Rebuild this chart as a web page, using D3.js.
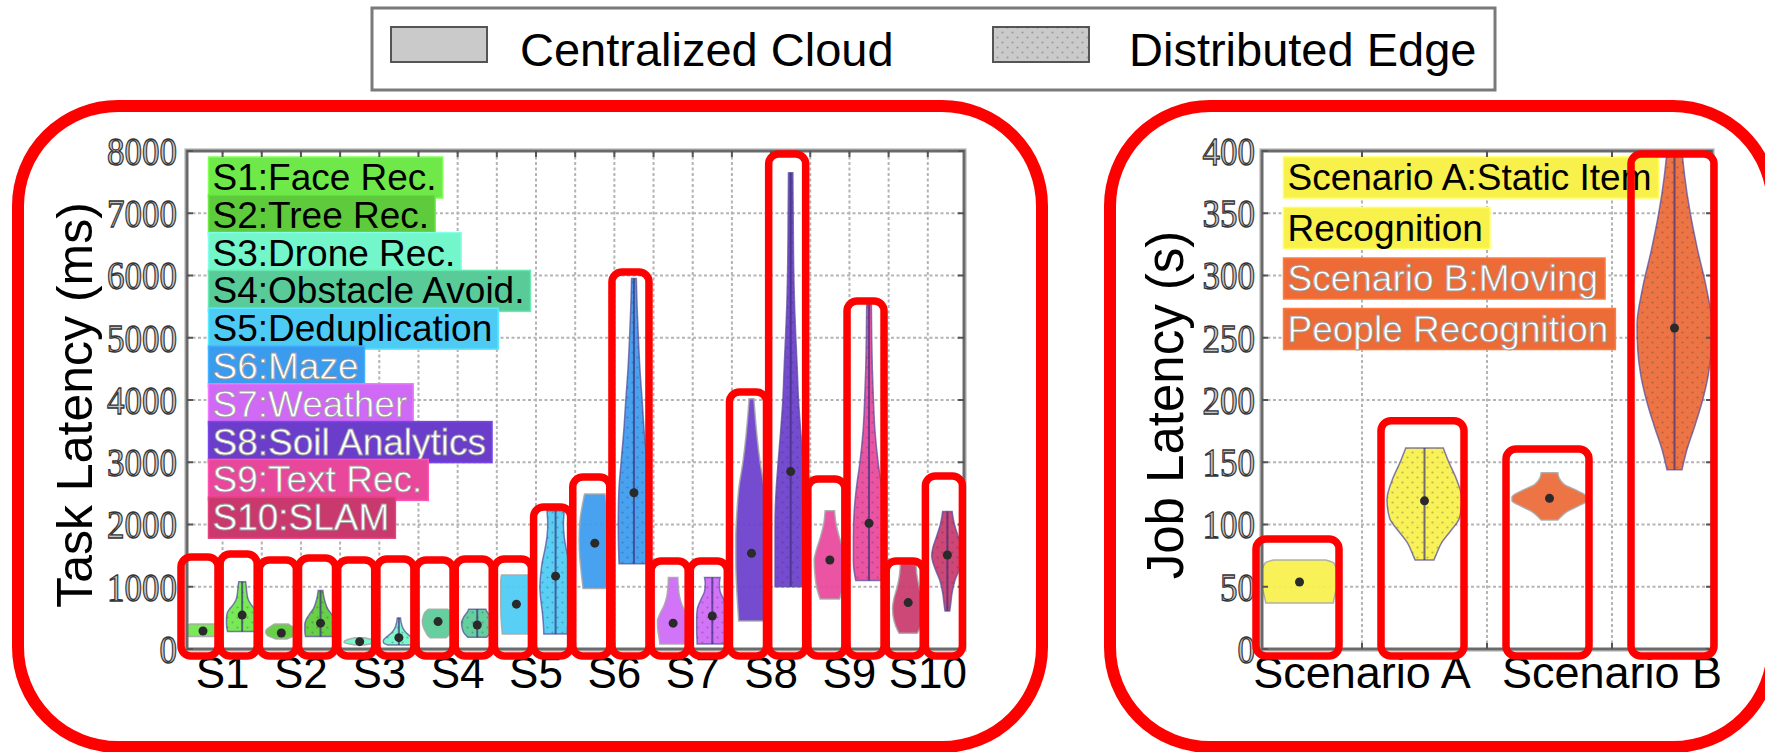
<!DOCTYPE html>
<html><head><meta charset="utf-8">
<script src="https://cdn.jsdelivr.net/npm/d3@7"></script>
<style>html,body{margin:0;padding:0;background:#fff;} svg{display:block}</style>
</head><body>
<svg id="chart" width="1765" height="752"></svg>
<script>
// ---------------- DATA ----------------
const categories = ["S1","S2","S3","S4","S5","S6","S7","S8","S9","S10"];
const taskNames = ["S1:Face Rec.","S2:Tree Rec.","S3:Drone Rec.","S4:Obstacle Avoid.","S5:Deduplication",
                   "S6:Maze","S7:Weather","S8:Soil Analytics","S9:Text Rec.","S10:SLAM"];
const taskColors = ["#6fe84a","#5dcb3b","#72f6ca","#59cb98","#4ecbf4","#3b9bef","#cf69f6","#6a3dcb","#e8479b","#c9396d"];
const taskLabelDark = [true,true,true,true,true,false,false,false,false,false];
const leftYTicks = [0,1000,2000,3000,4000,5000,6000,7000,8000];

// violin profiles: [latency (ms), relative half-width]
const cloudProfiles = [
  [[400,0.85],[380,0.97],[340,1],[260,1],[220,0.97],[200,0.9]],
  [[400,0.45],[360,0.7],[320,0.92],[270,1],[220,0.9],[190,0.65],[160,0.35]],
  [[180,0.3],[160,0.65],[130,0.95],[110,1],[90,0.85],[75,0.55],[64,0.3]],
  [[640,0.6],[600,0.8],[520,0.95],[440,1],[360,0.95],[280,0.8],[200,0.6],[180,0.5]],
  [[1190,0.95],[1100,1],[900,1],[700,1],[500,0.98],[300,0.92],[240,0.9]],
  [[2490,0.65],[2300,0.8],[2050,0.95],[1750,1],[1450,0.95],[1200,0.85],[970,0.75]],
  [[1150,0.3],[1000,0.33],[850,0.4],[700,0.58],[560,0.85],[450,1],[300,0.97],[150,0.88],[80,0.85]],
  [[4020,0.15],[3700,0.25],[3400,0.36],[3000,0.55],[2600,0.8],[2200,0.93],[1800,1],[1400,1],[1000,0.95],[700,0.88],[450,0.82]],
  [[2220,0.3],[2000,0.4],[1800,0.6],[1600,0.85],[1430,1],[1200,0.95],[1000,0.85],[805,0.62]],
  [[1380,0.5],[1200,0.55],[1000,0.7],[800,0.92],[650,1],[450,0.9],[300,0.68],[255,0.58]]
];
const edgeProfiles = [
  [[1080,0.22],[1000,0.26],[900,0.3],[800,0.38],[720,0.55],[650,0.78],[580,0.95],[500,1],[400,1],[300,0.95],[280,0.93]],
  [[940,0.15],[850,0.2],[750,0.3],[650,0.45],[560,0.7],[480,0.9],[400,1],[300,1],[220,0.97],[200,0.95]],
  [[500,0.1],[420,0.15],[340,0.25],[280,0.4],[230,0.6],[180,0.85],[130,1],[90,0.95],[64,0.7]],
  [[640,0.55],[600,0.62],[520,0.85],[420,1],[320,0.95],[240,0.8],[190,0.6]],
  [[2220,0.55],[2000,0.5],[1800,0.55],[1600,0.68],[1400,0.85],[1200,0.95],[1000,1],[800,0.95],[600,0.85],[400,0.78],[240,0.75]],
  [[5950,0.15],[5500,0.2],[5000,0.28],[4500,0.38],[4000,0.52],[3500,0.65],[3000,0.82],[2500,0.97],[2000,1],[1600,0.98],[1370,0.95]],
  [[1150,0.5],[1050,0.45],[920,0.5],[800,0.72],[650,0.95],[500,1],[300,1],[100,0.97],[80,0.97]],
  [[7650,0.14],[7000,0.16],[6000,0.2],[5500,0.25],[5000,0.33],[4500,0.42],[4000,0.5],[3500,0.64],[3000,0.8],[2500,0.94],[2000,1],[1500,1],[1000,1]],
  [[5530,0.15],[5000,0.17],[4500,0.21],[4000,0.28],[3500,0.38],[3000,0.58],[2600,0.8],[2200,0.95],[1800,1],[1400,1],[1100,0.85]],
  [[2210,0.3],[2000,0.45],[1800,0.7],[1600,0.95],[1500,1],[1300,0.8],[1100,0.48],[900,0.3],[700,0.2],[610,0.15]]
];
const cloudMedians = [290,257,118,440,720,1700,415,1537,1430,745];
const edgeMedians  = [545,415,182,385,1170,2510,530,2850,2020,1510];
// top of the red highlight frame around each violin (ms)
const cloudHighlightTop = [1478,1430,1430,1430,1446,2763,1414,4128,2731,1414];
const edgeHighlightTop  = [1526,1462,1446,1446,2281,6056,1414,7952,5590,2779];

const scenarios = ["Scenario A","Scenario B"];
const scenarioNames = ["Scenario A:Static Item","Recognition","Scenario B:Moving","People Recognition"];
const scenarioNameGroup = [0,0,1,1];
const scenarioColors = ["#f8f04b","#ec6b37"];
const scenarioLabelDark = [true,false];
const rightYTicks = [0,50,100,150,200,250,300,350,400];
const scenarioCloudProfiles = [
  [[71.5,0.7],[69,0.92],[62,1],[50,1],[44,0.95],[40,0.92],[37,0.9]],
  [[141.6,0.22],[137,0.26],[132,0.4],[127,0.75],[122,1],[119,1],[115,0.78],[110,0.45],[106,0.3],[103.6,0.22]]
];
const scenarioEdgeProfiles = [
  [[161.5,0.5],[150,0.65],[135,0.87],[120,1],[105,0.93],[95,0.7],[85,0.45],[75,0.3],[71.5,0.25]],
  [[400,0.2],[380,0.27],[350,0.42],[320,0.62],[290,0.85],[260,1],[240,0.98],[220,0.9],[200,0.75],[180,0.55],[160,0.33],[144,0.2]]
];
const scenarioCloudMedians = [53.8,121];
const scenarioEdgeMedians = [119,257.8];
const scenarioCloudHighlightTop = [88.4,160.6];
const scenarioEdgeHighlightTop = [183.4,397.6];

const legendLabels = ["Centralized Cloud","Distributed Edge"];

// ---------------- DRAW ----------------
const svg = d3.select("#chart");
const W = 1765, H = 752;
svg.append("rect").attr("width",W).attr("height",H).attr("fill","#fff");
const defs = svg.append("defs");
const pat = defs.append("pattern").attr("id","dots").attr("patternUnits","userSpaceOnUse")
  .attr("width",10).attr("height",10);
pat.append("circle").attr("cx",2.5).attr("cy",2.5).attr("r",1.1).attr("fill","rgba(50,50,50,0.3)");
pat.append("circle").attr("cx",7.5).attr("cy",7.5).attr("r",1.1).attr("fill","rgba(50,50,50,0.3)");

const SANS = "'Liberation Sans', Arial, Helvetica, sans-serif";
const SERIF = "'Liberation Serif', 'Times New Roman', serif";

// Legend
const lg = svg.append("g");
lg.append("rect").attr("x",372).attr("y",8).attr("width",1123).attr("height",82)
  .attr("fill","#fff").attr("stroke","#7a7a7a").attr("stroke-width",3);
const legX = [391, 993], legTX = [520, 1129];
legendLabels.forEach((t,i)=>{
  lg.append("rect").attr("x",legX[i]).attr("y",27).attr("width",96).attr("height",35)
    .attr("fill","#cacaca").attr("stroke","#555").attr("stroke-width",2);
  if (i===1) lg.append("rect").attr("x",legX[i]).attr("y",27).attr("width",96).attr("height",35)
    .attr("fill","url(#dots)");
  lg.append("text").attr("x",legTX[i]).attr("y",66).attr("font-family",SANS).attr("font-size",47)
    .attr("fill","#000").text(t);
});

function drawPanel(cfg){
  const g = svg.append("g");
  const xs = d3.scaleLinear().domain(cfg.xDomain).range([cfg.x0,cfg.x1]);
  const ys = d3.scaleLinear().domain(cfg.yDomain).range([cfg.y1,cfg.y0]);
  const clipId = "clip"+cfg.id;
  defs.append("clipPath").attr("id",clipId).append("rect")
    .attr("x",cfg.x0).attr("y",cfg.y0).attr("width",cfg.x1-cfg.x0).attr("height",cfg.y1-cfg.y0);

  // grid
  const grid = g.append("g").attr("stroke","#b4b4b4").attr("stroke-width",2).attr("stroke-dasharray","3,2.5");
  cfg.gridX.forEach(v=>grid.append("line").attr("x1",xs(v)).attr("x2",xs(v)).attr("y1",cfg.y0).attr("y2",cfg.y1));
  cfg.yTicks.forEach(v=>grid.append("line").attr("x1",cfg.x0).attr("x2",cfg.x1).attr("y1",ys(v)).attr("y2",ys(v)));

  // label boxes
  const lb = g.append("g");
  cfg.labels.forEach((t,i)=>{
    const by = cfg.labelBase + i*cfg.labelStep;
    const col = cfg.labelColor(i), dark = cfg.labelDark(i);
    const r = lb.append("rect").attr("x",cfg.x0+21.5).attr("y",by-33).attr("height",41)
      .attr("fill",col).attr("stroke",d3.color(col).brighter(0.4)).attr("stroke-width",1.5);
    const tx = lb.append("text").attr("x",cfg.x0+25.5).attr("y",by).attr("font-family",SANS)
      .attr("font-size",37).text(t);
    if (dark) tx.attr("fill","#000");
    else tx.attr("fill","#fff").attr("stroke","#9a9a9a").attr("stroke-width",0.8);
    const w = tx.node().getComputedTextLength();
    r.attr("width", w + 4 + cfg.labelPad);
  });

  // violins
  const vg = g.append("g").attr("clip-path",`url(#${clipId})`);
  const halfW = xs(cfg.width/2) - xs(0);
  function violin(pos, profile, color, edge, med){
    const pts = profile.slice().sort((a,b)=>b[0]-a[0]);
    const cx = xs(pos);
    const area = d3.area().curve(d3.curveMonotoneY)
      .y(d=>ys(d[0])).x0(d=>cx-d[1]*halfW).x1(d=>cx+d[1]*halfW);
    const d = area(pts);
    vg.append("path").attr("d",d).attr("fill",color).attr("fill-opacity",0.93)
      .attr("stroke", edge ? "#5b4f9c" : "#a8a8a8").attr("stroke-opacity", edge?0.75:0.9).attr("stroke-width",1.5);
    if (edge){
      vg.append("path").attr("d",d).attr("fill","url(#dots)");
      vg.append("line").attr("x1",cx).attr("x2",cx).attr("y1",ys(pts[0][0])).attr("y2",ys(pts[pts.length-1][0]))
        .attr("stroke","#3a2f7a").attr("stroke-opacity",0.7).attr("stroke-width",2);
    }
    vg.append("circle").attr("cx",cx).attr("cy",ys(med)).attr("r",4.5).attr("fill","#2a2a2a");
  }
  cfg.groups.forEach((c,i)=>{
    violin(i+1-0.25, cfg.cloud[i], cfg.color(i), false, cfg.cloudMed[i]);
    violin(i+1+0.25, cfg.edge[i], cfg.color(i), true, cfg.edgeMed[i]);
  });

  // frame and ticks
  const ax = g.append("g");
  ax.append("rect").attr("x",cfg.x0-2).attr("y",cfg.y0-2).attr("width",cfg.x1-cfg.x0+4).attr("height",cfg.y1-cfg.y0+4)
    .attr("fill","none").attr("stroke","#c4c4c4").attr("stroke-width",1.5);
  ax.append("rect").attr("x",cfg.x0).attr("y",cfg.y0).attr("width",cfg.x1-cfg.x0).attr("height",cfg.y1-cfg.y0)
    .attr("fill","none").attr("stroke","#6a6a6a").attr("stroke-width",3);
  const tk = ax.append("g").attr("stroke","#555").attr("stroke-width",2);
  cfg.gridX.forEach(v=>{
    tk.append("line").attr("x1",xs(v)).attr("x2",xs(v)).attr("y1",cfg.y0).attr("y2",cfg.y0+6);
    tk.append("line").attr("x1",xs(v)).attr("x2",xs(v)).attr("y1",cfg.y1).attr("y2",cfg.y1-6);
  });
  cfg.yTicks.forEach(v=>{
    tk.append("line").attr("x1",cfg.x0).attr("x2",cfg.x0+6).attr("y1",ys(v)).attr("y2",ys(v));
    tk.append("line").attr("x1",cfg.x1).attr("x2",cfg.x1-6).attr("y1",ys(v)).attr("y2",ys(v));
  });
  // y tick labels
  cfg.yTicks.forEach(v=>{
    ax.append("text").attr("transform",`translate(${cfg.x0-cfg.tickGap},${ys(v)}) scale(1,1.17)`)
      .attr("text-anchor","end").attr("dominant-baseline","central")
      .attr("font-family",SERIF).attr("font-size",35)
      .attr("fill","#c4c4c4").attr("stroke","#333").attr("stroke-width",1.1).text(v);
  });
  // x labels
  cfg.groups.forEach((c,i)=>{
    ax.append("text").attr("x",xs(i+1)).attr("y",688).attr("text-anchor","middle")
      .attr("font-family",SANS).attr("font-size",cfg.xFont).attr("fill","#000").text(c);
  });
  // y title
  ax.append("text").attr("transform",`translate(${cfg.titleX},405) rotate(-90)`)
    .attr("text-anchor","middle").attr("dominant-baseline","central")
    .attr("font-family",SANS).attr("font-size",cfg.titleSize).attr("fill","#000").text(cfg.title);

  // red highlight frames
  const hg = g.append("g").attr("fill","none").attr("stroke","#ff0000").attr("stroke-width",7.5);
  const hb = ys(0) + 7;
  cfg.groups.forEach((c,i)=>{
    [[i+1-0.25, cfg.cloudTop[i]],[i+1+0.25, cfg.edgeTop[i]]].forEach(([p,top])=>{
      const cx = xs(p) + cfg.boxShift;
      const ty = ys(top);
      hg.append("rect").attr("x",cx-cfg.boxHalf).attr("y",ty).attr("width",cfg.boxHalf*2)
        .attr("height",hb-ty).attr("rx",10);
    });
  });
}

drawPanel({
  id:"L", x0:187, x1:964, y0:151, y1:649, xDomain:[0.546,10.462], yDomain:[0,8000],
  gridX: d3.range(1,10.01,0.5), yTicks:leftYTicks, groups:categories, width:0.4,
  cloud:cloudProfiles, edge:edgeProfiles, cloudMed:cloudMedians, edgeMed:edgeMedians,
  cloudTop:cloudHighlightTop, edgeTop:edgeHighlightTop,
  color:i=>taskColors[i], labels:taskNames, labelColor:i=>taskColors[i], labelDark:i=>taskLabelDark[i],
  labelBase:190, labelStep:37.8, labelPad:6,
  tickGap:10, xFont:44, title:"Task Latency (ms)", titleX:75, titleSize:50,
  boxShift:-3.5, boxHalf:18.5
});
drawPanel({
  id:"R", x0:1262, x1:1712, y0:151, y1:649, xDomain:[0.6,2.4], yDomain:[0,400],
  gridX:[1,1.5,2], yTicks:rightYTicks, groups:scenarios, width:0.3,
  cloud:scenarioCloudProfiles, edge:scenarioEdgeProfiles, cloudMed:scenarioCloudMedians, edgeMed:scenarioEdgeMedians,
  cloudTop:scenarioCloudHighlightTop, edgeTop:scenarioEdgeHighlightTop,
  color:i=>scenarioColors[i], labels:scenarioNames,
  labelColor:i=>scenarioColors[scenarioNameGroup[i]], labelDark:i=>scenarioLabelDark[scenarioNameGroup[i]],
  labelBase:190, labelStep:50.5, labelPad:7,
  tickGap:7, xFont:45, title:"Job Latency (s)", titleX:1165, titleSize:51,
  boxShift:-2, boxHalf:41.5
});

// panel frames
const pf = svg.append("g").attr("fill","none").attr("stroke","#ff0000").attr("stroke-width",12);
pf.append("rect").attr("x",18).attr("y",106).attr("width",1042-18).attr("height",747-106).attr("rx",100);
pf.append("rect").attr("x",1110).attr("y",106).attr("width",1773-1110).attr("height",747-106).attr("rx",100);
</script></body></html>
